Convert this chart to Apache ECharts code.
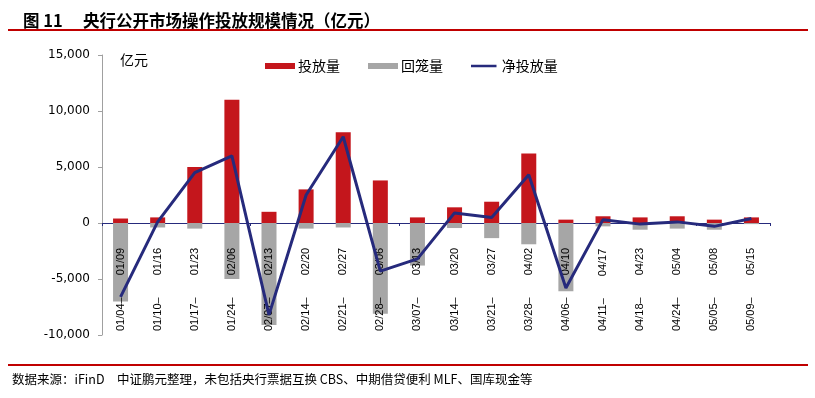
<!DOCTYPE html>
<html>
<head>
<meta charset="utf-8">
<script src="https://cdn.jsdelivr.net/npm/echarts@6/dist/echarts.min.js"></script>
<style>
  html, body { margin: 0; padding: 0; background: #fff; }
  #chart { width: 815px; height: 398px; }
</style>
</head>
<body>
<div id="chart"></div>
<script>
// 周期（横轴）
const weeks = ['01/04–　　01/09', '01/10–　　01/16', '01/17–　　01/23', '01/24–　　02/06', '02/07–　　02/13',
  '02/14–　　02/20', '02/21–　　02/27', '02/28–　　03/06', '03/07–　　03/13', '03/14–　　03/20', '03/21–　　03/27',
  '03/28–　　04/02', '04/06–　　04/10', '04/11–　　04/17', '04/18–　　04/23', '04/24–　　05/04', '05/05–　　05/08',
  '05/09–　　05/15'];
// 投放量、回笼量、净投放量（亿元）
const injection = [400, 500, 5000, 11000, 1000, 3000, 8100, 3800, 500, 1400, 1900, 6200, 300, 600, 500, 600, 300, 500];
const withdrawal = [-7000, -400, -500, -5000, -9100, -500, -400, -8100, -3800, -450, -1350, -1900, -6100, -300, -600, -500, -600, -100];
const netInjection = [-6600, 100, 4500, 6000, -8200, 2500, 7700, -4300, -3200, 900, 500, 4300, -5800, 300, -100, 100, -300, 400];

const chart = echarts.init(document.getElementById('chart'));
chart.setOption({
  animation: false,
  title: {
    text: '图 11　 央行公开市场操作投放规模情况（亿元）',
    left: 18,
    top: 7,
    textStyle: { fontFamily: 'Noto Sans CJK SC', fontSize: 16.5, fontWeight: 'bold', color: '#000' }
  },
  legend: {
    left: 260,
    top: 54,
    itemWidth: 30,
    itemHeight: 6,
    itemGap: 28,
    textStyle: { fontFamily: 'Noto Sans CJK SC', fontSize: 14, color: '#000', padding: [0, 0, 0, -2] },
    data: [
      { name: '投放量', icon: 'rect' },
      { name: '回笼量', icon: 'rect' },
      // 细线图例：上下两个极小点撑开包围盒，中间是线
      { name: '净投放量', icon: 'path://M0,0 H0.01 V0.01 H0 Z M0,2.2 H34 V5.8 H0 Z M0,7.99 H0.01 V8 H0 Z' }
    ]
  },
  grid: { left: 102, right: 45, top: 55, bottom: 63, containLabel: false, outerBoundsMode: 'none' },
  xAxis: [
    {
      // 零线和刻度
      type: 'category',
      data: weeks,
      axisLine: { onZero: true, lineStyle: { color: '#262A7C', width: 1 } },
      axisTick: { show: true, length: 3, lineStyle: { color: '#262A7C' } },
      axisLabel: { show: false }
    },
    {
      // 底部竖排标签，向上写进图内
      type: 'category',
      data: weeks,
      position: 'bottom',
      z: 3,
      axisLine: { show: false, onZero: false },
      axisTick: { show: false },
      axisLabel: {
        inside: true,
        rotate: 90,
        margin: 4,
        interval: 0,
        fontFamily: 'Liberation Sans',
        fontSize: 11,
        color: '#000'
      }
    }
  ],
  yAxis: {
    type: 'value',
    min: -10000,
    max: 15000,
    interval: 5000,
    splitLine: { show: false },
    axisLine: { show: true, lineStyle: { color: '#A0A0A0' } },
    axisTick: { show: true, length: 4, lineStyle: { color: '#A0A0A0' } },
    axisLabel: {
      margin: 12,
      fontFamily: 'DejaVu Sans',
      fontSize: 12,
      color: '#000',
      formatter: v => v.toLocaleString('en-US')
    }
  },
  graphic: [
    { type: 'rect', left: 8, top: 29, shape: { width: 800, height: 2 }, style: { fill: '#C00000' } },
    { type: 'rect', left: 8, top: 364, shape: { width: 800, height: 2 }, style: { fill: '#C00000' } },
    {
      type: 'text', left: 120, top: 53,
      style: { text: '亿元', font: '14px "Noto Sans CJK SC"', fill: '#000' }
    },
    {
      type: 'text', left: 12, top: 373,
      style: {
        text: '数据来源：iFinD　中证鹏元整理，未包括央行票据互换 CBS、中期借贷便利 MLF、国库现金等',
        font: '12.5px "Noto Sans CJK SC"', fill: '#000'
      }
    }
  ],
  series: [
    {
      name: '投放量',
      type: 'bar',
      data: injection,
      barWidth: 15,
      barGap: '-100%',
      itemStyle: { color: '#C4161C' }
    },
    {
      name: '回笼量',
      type: 'bar',
      data: withdrawal,
      barWidth: 15,
      itemStyle: { color: '#A6A6A6' }
    },
    {
      name: '净投放量',
      type: 'line',
      data: netInjection,
      showSymbol: false,
      symbol: 'none',
      z: 5,
      lineStyle: { color: '#262A7C', width: 3 },
      itemStyle: { color: '#262A7C' }
    }
  ]
});
</script>
</body>
</html>
